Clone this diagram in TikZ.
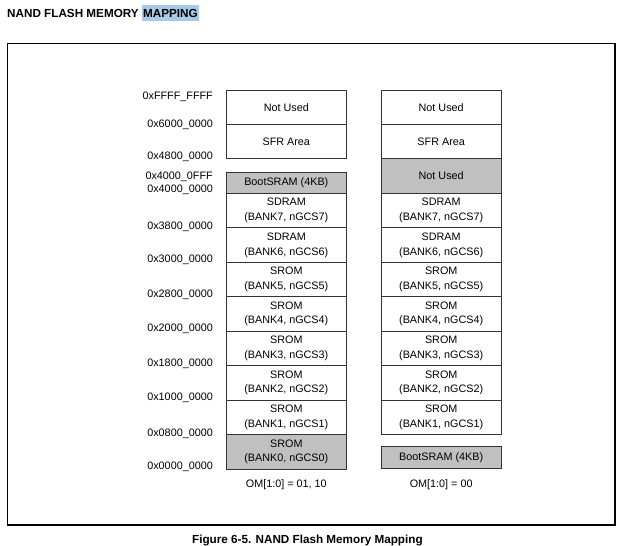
\documentclass[tikz,border=0pt]{standalone}
\usepackage{fontspec}
\setmainfont{Liberation Sans}
\usepackage{tikz}
\usetikzlibrary{positioning}

\definecolor{boxline}{RGB}{51,51,51}
\definecolor{bootgray}{RGB}{192,192,192}
\definecolor{selblue}{RGB}{168,202,232}

\newcommand{\memfont}{\fontsize{10.8}{14.7}\selectfont}
\newcommand{\headfont}{\fontsize{11.7}{14}\selectfont\bfseries}

\tikzset{
  mem/.style={draw=boxline, line width=0.9pt, minimum width=120pt, minimum height=34.46pt,
    inner sep=0pt, align=center, font=\memfont},
  memgray/.style={mem, fill=bootgray},
  addr/.style={anchor=base east, inner sep=0pt, font=\memfont},
}

\begin{document}
\begin{tikzpicture}[x=1pt,y=-1pt]
  \useasboundingbox (0,0) rectangle (625,546);

  \node[anchor=base west, inner sep=0pt, font=\headfont] (title) at (7,17) {NAND FLASH MEMORY};
  \node[right=3.2pt of title, fill=selblue, inner xsep=0.8pt, minimum height=16.5pt,
    font=\headfont] (title-sel) {MAPPING};

  \draw[line width=1.2pt] (7.5,43.5) rectangle (615,525);

  % addresses
  \node[addr] (a-ffff) at (213,99.6) {0xFFFF\_FFFF};
  \node[addr] (a-6000) at (213,127.4) {0x6000\_0000};
  \node[addr] (a-4800) at (213,159.3) {0x4800\_0000};
  \node[addr] (a-40ff) at (213,179.8) {0x4000\_0FFF};
  \node[addr] (a-4000) at (213,192.8) {0x4000\_0000};
  \node[addr] (a-3800) at (213,229.4) {0x3800\_0000};
  \node[addr] (a-3000) at (213,262.9) {0x3000\_0000};
  \node[addr] (a-2800) at (213,297.7) {0x2800\_0000};
  \node[addr] (a-2000) at (213,331.7) {0x2000\_0000};
  \node[addr] (a-1800) at (213,366.7) {0x1800\_0000};
  \node[addr] (a-1000) at (213,400.9) {0x1000\_0000};
  \node[addr] (a-0800) at (213,436.1) {0x0800\_0000};
  \node[addr] (a-0000) at (213,469.4) {0x0000\_0000};

  % OM[1:0] = 01, 10
  \node[mem] (l-notused) at (286.3,107.2) {Not Used};
  \node[mem] (l-sfr) at (286.3,141.7) {SFR Area};
  \node[memgray, minimum height=20.6pt] (l-boot) at (286.3,183) {BootSRAM (4KB)};
  \node[mem] (l-bank7) at (286.3,210.5) {SDRAM\\(BANK7, nGCS7)};
  \node[mem] (l-bank6) at (286.3,245) {SDRAM\\(BANK6, nGCS6)};
  \node[mem] (l-bank5) at (286.3,279.45) {SROM\\(BANK5, nGCS5)};
  \node[mem] (l-bank4) at (286.3,313.9) {SROM\\(BANK4, nGCS4)};
  \node[mem] (l-bank3) at (286.3,348.4) {SROM\\(BANK3, nGCS3)};
  \node[mem] (l-bank2) at (286.3,382.8) {SROM\\(BANK2, nGCS2)};
  \node[mem] (l-bank1) at (286.3,417.3) {SROM\\(BANK1, nGCS1)};
  \node[memgray] (l-bank0) at (286.3,451.75) {SROM\\(BANK0, nGCS0)};
  \node[font=\memfont] (l-mode) at (286.3,485) {OM[1:0] = 01, 10};

  % OM[1:0] = 00
  \node[mem] (r-notused) at (441.2,107.2) {Not Used};
  \node[mem] (r-sfr) at (441.2,141.7) {SFR Area};
  \node[memgray] (r-gap) at (441.2,176.1) {Not Used};
  \node[mem] (r-bank7) at (441.2,210.5) {SDRAM\\(BANK7, nGCS7)};
  \node[mem] (r-bank6) at (441.2,245) {SDRAM\\(BANK6, nGCS6)};
  \node[mem] (r-bank5) at (441.2,279.45) {SROM\\(BANK5, nGCS5)};
  \node[mem] (r-bank4) at (441.2,313.9) {SROM\\(BANK4, nGCS4)};
  \node[mem] (r-bank3) at (441.2,348.4) {SROM\\(BANK3, nGCS3)};
  \node[mem] (r-bank2) at (441.2,382.8) {SROM\\(BANK2, nGCS2)};
  \node[mem] (r-bank1) at (441.2,417.3) {SROM\\(BANK1, nGCS1)};
  \node[memgray, minimum height=21.6pt] (r-boot) at (441.2,457.5) {BootSRAM (4KB)};
  \node[font=\memfont] (r-mode) at (441.2,485) {OM[1:0] = 00};

  \node[anchor=base, font=\headfont] (caption) at (307.4,543.3) {Figure 6-5. NAND Flash Memory Mapping};
\end{tikzpicture}
\end{document}
